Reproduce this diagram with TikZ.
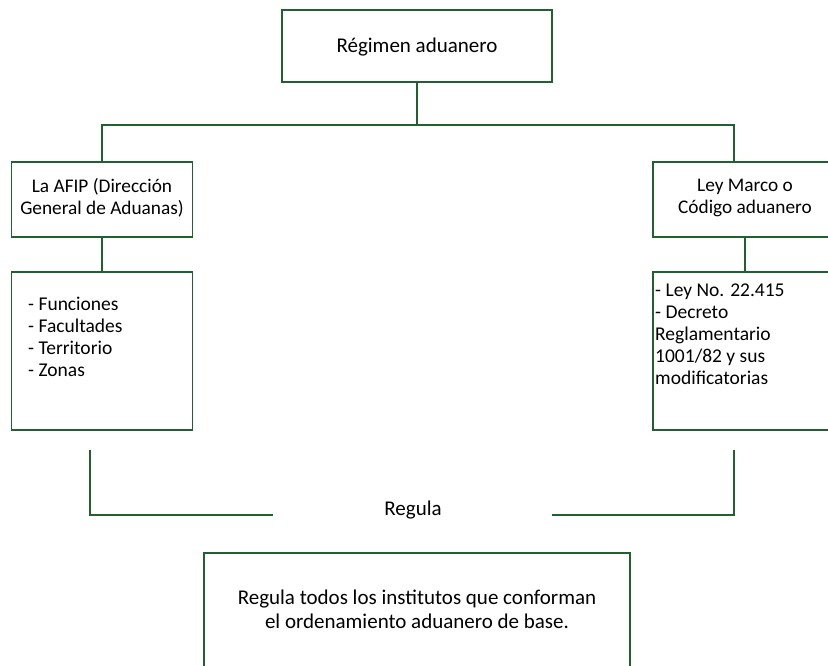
\documentclass[tikz,border=0pt]{standalone}
\usepackage{fontspec}
\setmainfont{Carlito}
\definecolor{boxgreen}{RGB}{34,96,50}
\begin{document}
\begin{tikzpicture}[x=1pt,y=-1pt,
  box/.style={draw=boxgreen,line width=1.3pt,minimum width=#1,inner sep=0pt,rectangle},
  conn/.style={draw=boxgreen,line width=1.3pt},
  txt/.style={font=\fontsize{19.3}{21.5}\selectfont,inner sep=0pt,align=center},
  bigtxt/.style={font=\fontsize{21}{24.5}\selectfont,inner sep=0pt,align=center},
  ltxt/.style={font=\fontsize{19.5}{21.8}\selectfont,inner sep=0pt,align=left,anchor=north west}]
\useasboundingbox (0,0) rectangle (828,665);
% boxes
\node[box=270pt,minimum height=72pt] (top) at (417,46) {};
\node[box=181pt,minimum height=75pt] (afip) at (102,199.5) {};
\node[box=181pt,minimum height=158pt] (afipl) at (102,351) {};
\node[box=184pt,minimum height=75pt] (ley) at (745,199.5) {};
\node[box=184pt,minimum height=158pt] (leyl) at (745,351) {};
\node[box=426pt,minimum height=130pt] (base) at (417,618) {};
% texts
\node[bigtxt] (toptxt) at (417,47) {Régimen aduanero};
\node[txt] (afiptxt) at (102,198) {La AFIP (Dirección\\General de Aduanas)};
\node[txt] (leytxt) at (745,198) {Ley Marco o\\Código aduanero};
\node[ltxt] (afiplist) at (28,297) {- Funciones\\- Facultades\\- Territorio\\- Zonas};
\node[ltxt] (leylist) at (655,284) {- Ley No. 22.415\\- Decreto\\Reglamentario\\1001/82 y sus\\modificatorias};
\node[bigtxt] (regula) at (413,510) {Regula};
\node[bigtxt] (basetxt) at (417,609.5) {Regula todos los institutos que conforman\\el ordenamiento aduanero de base.};
% connectors
\coordinate (bus) at (417,125);
\coordinate (busl) at (102,125);
\coordinate (busr) at (734,125);
\coordinate (busrd) at (734,162);
\draw[conn] (top.south) -- (bus);
\draw[conn] (afip.north) -- (busl) -- (busr) -- (busrd);
\draw[conn] (afip.south) -- (afipl.north);
\draw[conn] (ley.south) -- (leyl.north);
\coordinate (la) at (90,450);
\coordinate (lb) at (90,515);
\coordinate (lc) at (273,515);
\coordinate (ra) at (734,450);
\coordinate (rb) at (734,515);
\coordinate (rc) at (552,515);
\draw[conn] (la) -- (lb) -- (lc);
\draw[conn] (ra) -- (rb) -- (rc);
\end{tikzpicture}
\end{document}
